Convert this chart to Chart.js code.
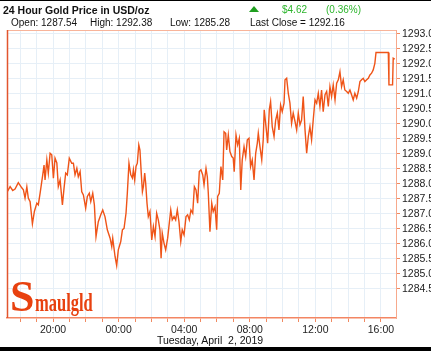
<!DOCTYPE html>
<html>
<head>
<meta charset="utf-8">
<script src="https://cdn.jsdelivr.net/npm/chart.js@4"></script>
<style>
  html, body { margin: 0; padding: 0; background: #fff; }
  #wrap { position: relative; width: 431px; height: 351px; overflow: hidden; background: #fff; font-family: "Liberation Sans", Arial, sans-serif; color: #111; }
  #chart { position: absolute; left: 0; top: 0; }
  .bar { position: absolute; left: 0; width: 431px; background: #000; }
  .txt { position: absolute; white-space: pre; line-height: 1; }
  .up { color: #2db52d; }
  #tri { position: absolute; left: 249px; top: 6px; width: 0; height: 0; border-left: 5px solid transparent; border-right: 5px solid transparent; border-bottom: 6px solid #1f9e1f; }
  #logo { position: absolute; left: 10px; top: 275px; color: #e8410f; white-space: nowrap; }
  #logo .s { font-family: "Liberation Serif", serif; font-weight: bold; font-size: 44px; line-height: 1; display: inline-block; }
  #logo .rest { font-family: "Liberation Serif", serif; font-weight: bold; font-size: 25px; display: inline-block; transform: scaleX(0.66); transform-origin: left; margin-left: 1px; }
</style>
</head>
<body>
<div id="wrap">
  <canvas id="chart" width="431" height="351"></canvas>
  <div class="bar" style="top:0;height:1px"></div>
  <div class="bar" style="top:347px;height:4px"></div>

  <div class="txt" style="left:3px;top:5px;font-weight:bold;font-size:10.5px">24 Hour Gold Price in USD/oz</div>
  <div id="tri"></div>
  <div class="txt up" style="left:282px;top:5px;font-size:10px">$4.62</div>
  <div class="txt up" style="left:326px;top:5px;font-size:10px">(0.36%)</div>
  <div class="txt" style="left:11px;top:18px;font-size:10px">Open: 1287.54</div>
  <div class="txt" style="left:90px;top:18px;font-size:10px">High: 1292.38</div>
  <div class="txt" style="left:170px;top:18px;font-size:10px">Low: 1285.28</div>
  <div class="txt" style="left:250px;top:18px;font-size:10px">Last Close = 1292.16</div>

  <div id="logo"><span class="s">S</span><span class="rest">maulgld</span></div>

  <div class="txt" style="left:110px;width:200px;text-align:center;top:335px;font-size:10.5px">Tuesday, April  2, 2019</div>
</div>

<script>
// hours: 20 = 20:00 Monday, 24 = 00:00 Tuesday, 40 = 16:00 Tuesday
const hours = [
  17.21, 17.38, 17.54, 17.68, 17.88, 18.09, 18.19, 18.29, 18.40, 18.49,
  18.60, 18.74, 18.86, 19.01, 19.10, 19.21, 19.37, 19.45, 19.51, 19.62,
  19.71, 19.82, 19.92, 20.02, 20.12, 20.23, 20.32, 20.43, 20.57, 20.67,
  20.77, 20.87, 20.99, 21.14, 21.24, 21.34, 21.45, 21.54, 21.65, 21.75,
  21.85, 21.99, 22.09, 22.21, 22.30, 22.42, 22.52, 22.62, 22.76, 22.91,
  23.03, 23.17, 23.31, 23.48, 23.58, 23.64, 23.78, 23.88, 23.98, 24.13,
  24.23, 24.33, 24.45, 24.53, 24.63, 24.74, 24.84, 24.90, 24.98, 25.06,
  25.14, 25.23, 25.30, 25.38, 25.45, 25.51, 25.59, 25.65, 25.73, 25.81,
  25.91, 26.02, 26.12, 26.22, 26.32, 26.42, 26.52, 26.59, 26.66, 26.77,
  26.87, 26.99, 27.09, 27.18, 27.27, 27.38, 27.48, 27.58, 27.68, 27.79,
  27.88, 27.99, 28.11, 28.21, 28.31, 28.41, 28.52, 28.62, 28.72, 28.82,
  28.92, 29.02, 29.13, 29.21, 29.33, 29.41, 29.47, 29.57, 29.68, 29.77,
  29.88, 29.98, 30.04, 30.14, 30.24, 30.35, 30.43, 30.53, 30.59, 30.69,
  30.79, 30.90, 30.99, 31.05, 31.16, 31.26, 31.36, 31.45, 31.54, 31.65,
  31.75, 31.85, 31.95, 32.05, 32.15, 32.26, 32.36, 32.46, 32.52, 32.62,
  32.73, 32.82, 32.88, 32.99, 33.09, 33.19, 33.27, 33.37, 33.48, 33.58,
  33.68, 33.78, 33.88, 33.98, 34.09, 34.15, 34.25, 34.35, 34.45, 34.55,
  34.65, 34.76, 34.86, 34.96, 35.06, 35.16, 35.26, 35.37, 35.47, 35.57,
  35.67, 35.77, 35.87, 35.98, 36.08, 36.18, 36.28, 36.38, 36.48, 36.59,
  36.69, 36.79, 36.89, 36.99, 37.09, 37.20, 37.30, 37.40, 37.50, 37.60,
  37.70, 37.80, 37.91, 38.01, 38.11, 38.21, 38.31, 38.41, 38.52, 38.62,
  38.72, 38.82, 38.92, 39.02, 39.13, 39.23, 39.33, 39.43, 39.53, 39.63,
  39.70, 40.45, 40.49, 40.71, 40.75, 40.84
];

const prices = [
  1287.74, 1287.91, 1287.78, 1287.83, 1288.04, 1287.87, 1287.80, 1287.53, 1287.90, 1287.53,
  1287.41, 1286.67, 1287.08, 1287.36, 1287.30, 1287.69, 1288.30, 1288.63, 1288.13, 1288.80,
  1288.36, 1289.02, 1288.97, 1288.19, 1288.86, 1288.70, 1287.91, 1288.13, 1287.30, 1287.86,
  1288.36, 1288.30, 1288.86, 1288.69, 1288.69, 1288.30, 1288.52, 1288.24, 1288.41, 1287.74,
  1287.63, 1287.19, 1287.58, 1287.69, 1287.41, 1287.69, 1287.30, 1286.24, 1286.74, 1286.97,
  1287.13, 1286.90, 1286.47, 1286.19, 1285.91, 1286.19, 1285.58, 1285.28, 1285.80, 1286.08,
  1286.47, 1286.52, 1287.02, 1287.69, 1288.69, 1288.30, 1288.19, 1288.47, 1288.13, 1288.58,
  1288.69, 1289.30, 1289.13, 1288.36, 1287.74, 1287.91, 1288.36, 1288.02, 1287.36, 1286.91,
  1287.08, 1286.13, 1286.58, 1286.24, 1287.02, 1286.80, 1286.47, 1285.52, 1286.36, 1286.02,
  1285.80, 1286.19, 1286.69, 1287.13, 1286.80, 1286.91, 1286.80, 1287.13, 1286.74, 1286.08,
  1286.47, 1286.30, 1286.91, 1286.97, 1286.80, 1287.13, 1287.02, 1287.91, 1287.80, 1287.36,
  1288.41, 1288.47, 1288.30, 1287.97, 1288.52, 1288.24, 1287.69, 1286.41, 1287.36, 1287.08,
  1287.24, 1286.47, 1287.58, 1287.69, 1288.58, 1288.13, 1289.74, 1289.69, 1289.13, 1289.63,
  1289.08, 1288.91, 1288.86, 1288.41, 1289.63, 1289.30, 1289.52, 1287.80, 1288.80, 1289.24,
  1288.91, 1289.47, 1289.52, 1288.58, 1288.80, 1288.13, 1289.02, 1289.36, 1289.69, 1289.24,
  1288.80, 1289.47, 1290.47, 1289.91, 1289.36, 1290.47, 1290.74, 1289.91, 1289.58, 1290.13,
  1290.36, 1289.80, 1290.63, 1290.41, 1290.69, 1291.47, 1291.52, 1291.02, 1290.69, 1290.02,
  1290.36, 1290.08, 1289.80, 1290.36, 1289.97, 1290.13, 1290.91, 1289.80, 1289.02, 1289.58,
  1289.91, 1289.47, 1290.13, 1290.80, 1290.69, 1291.02, 1290.58, 1291.13, 1290.41, 1290.97,
  1291.08, 1290.58, 1291.24, 1290.91, 1291.30, 1290.80, 1291.36, 1291.47, 1291.74, 1291.24,
  1291.47, 1291.13, 1291.08, 1291.02, 1291.13, 1290.97, 1290.80, 1291.02, 1290.86, 1291.08,
  1291.41, 1291.47, 1291.52, 1291.41, 1291.47, 1291.52, 1291.63, 1291.69, 1291.80, 1292.02,
  1292.38, 1292.38, 1291.30, 1291.30, 1292.19, 1292.16
];

const hourRange = [17.19, 40.92];
const priceRange = [1283.53, 1293.13];
const labelEvery = 4; // hour labels every 4 hours, ticks every hour

Chart.defaults.font.family = '"Liberation Sans", Arial, sans-serif';
Chart.defaults.font.size = 10.5;
Chart.defaults.color = '#222';

// top and left edge of the plot box (bottom/right come from the axes)
const frame = {
  id: 'frame',
  afterDraw(chart) {
    const { ctx, chartArea: a } = chart;
    ctx.save();
    ctx.lineWidth = 1;
    ctx.strokeStyle = '#f8b49a';
    ctx.beginPath();
    ctx.moveTo(a.left, a.top + 0.5);
    ctx.lineTo(a.right, a.top + 0.5);
    ctx.stroke();
    ctx.lineWidth = 1.5;
    ctx.strokeStyle = '#e2552e';
    ctx.beginPath();
    ctx.moveTo(a.left + 0.5, a.top);
    ctx.lineTo(a.left + 0.5, a.bottom);
    ctx.stroke();
    ctx.restore();
  }
};

const ctx = document.getElementById('chart').getContext('2d');
const goldChart = new Chart(ctx, {
  type: 'line',
  data: {
    datasets: [{
      data: hours.map((h, i) => ({ x: h, y: prices[i] })),
      borderColor: '#ef5418',
      borderWidth: 1.4,
      pointRadius: 0,
      tension: 0,
      fill: false
    }]
  },
  options: {
    responsive: false,
    animation: false,
    devicePixelRatio: 1,
    layout: { padding: { top: 30, left: 7, right: 0, bottom: 5 } },
    plugins: { legend: { display: false }, tooltip: { enabled: false } },
    scales: {
      x: {
        type: 'linear',
        min: hourRange[0],
        max: hourRange[1],
        afterFit: (s) => { s.height = 28; },
        grid: { color: '#e6eff7', tickColor: '#f08a62', tickLength: 4 },
        border: { color: '#f38663', width: 1.5 },
        ticks: {
          stepSize: 1,
          includeBounds: false,
          autoSkip: false,
          maxRotation: 0,
          padding: 2,
          color: '#222',
          callback: (v) => (v % labelEvery === 0 ? String(v % 24).padStart(2, '0') + ':00' : '')
        }
      },
      y: {
        position: 'right',
        min: priceRange[0],
        max: priceRange[1],
        afterFit: (s) => { s.width = 35; },
        afterBuildTicks: (s) => { s.ticks = s.ticks.filter((t) => t.value >= 1284.5); },
        grid: { color: '#e6eff7', tickColor: '#f08a62', tickLength: 4 },
        border: { color: '#f7a98c', width: 1 },
        ticks: {
          stepSize: 0.5,
          includeBounds: false,
          padding: 2,
          color: '#222',
          callback: (v) => v.toFixed(1)
        }
      }
    }
  },
  plugins: [frame]
});
</script>
</body>
</html>
